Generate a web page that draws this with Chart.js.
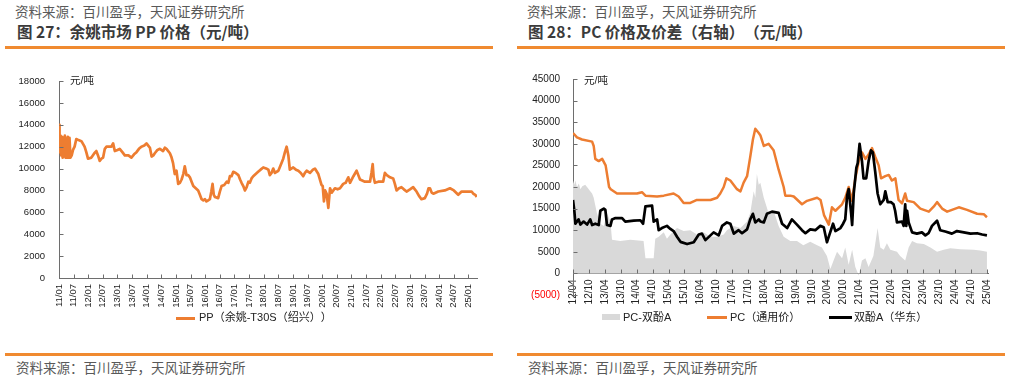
<!DOCTYPE html>
<html><head><meta charset="utf-8">
<script src="https://cdn.jsdelivr.net/npm/chart.js@4.4.1/dist/chart.umd.min.js"></script>
<style>
body{margin:0;width:1011px;height:378px;background:#fff;position:relative;overflow:hidden;font-family:"Liberation Sans","Noto Sans CJK SC",sans-serif;text-spacing-trim:space-all;}
.abs{position:absolute;white-space:nowrap;line-height:1;text-spacing-trim:space-all;}
.src{font-family:"Noto Sans CJK SC";font-size:13.5px;color:#595959;}
.ttl{font-family:"Noto Sans CJK SC";font-size:15.5px;font-weight:bold;color:#3b3b3b;}
.rule{position:absolute;height:2.5px;background:#F08A30;}
.unit{font-size:10.5px;color:#222;}
.leg{font-size:11px;color:#222;}
.sw{position:absolute;}
canvas{position:absolute;}
</style></head>
<body>
<div class="abs src" style="left:15px;top:5px">资料来源：百川盈孚，天风证券研究所</div>
<div class="abs ttl" style="left:17px;top:24px">图 27：余姚市场 PP 价格（元/吨）</div>
<div class="rule" style="left:5px;top:46px;width:488px"></div>
<div class="abs src" style="left:527px;top:5px">资料来源：百川盈孚，天风证券研究所</div>
<div class="abs ttl" style="left:528px;top:24px">图 28：PC 价格及价差（右轴）（元/吨）</div>
<div class="rule" style="left:517px;top:46px;width:488px"></div>

<div style="position:absolute;left:0;top:60px;width:500px;height:250px"><canvas id="c1"></canvas></div>
<div style="position:absolute;left:510px;top:60px;width:501px;height:254px"><canvas id="c2"></canvas></div>

<div class="abs unit" style="left:70px;top:75px">元/吨</div>
<div class="abs unit" style="left:584px;top:75px">元/吨</div>

<div class="sw" style="left:176px;top:317px;width:19px;height:2.5px;background:#ED7D31"></div>
<div class="abs leg" style="left:199px;top:312px">PP（余姚-T30S（绍兴））</div>

<div class="sw" style="left:602px;top:314px;width:18px;height:6px;background:#D9D9D9"></div>
<div class="abs leg" style="left:623px;top:312px">PC-双酚A</div>
<div class="sw" style="left:707px;top:316px;width:20px;height:2.5px;background:#ED7D31"></div>
<div class="abs leg" style="left:730px;top:312px">PC（通用价）</div>
<div class="sw" style="left:829px;top:316px;width:23px;height:2.5px;background:#000"></div>
<div class="abs leg" style="left:854px;top:312px">双酚A（华东）</div>

<div class="rule" style="left:5px;top:353px;width:488px"></div>
<div class="abs src" style="left:16px;top:361px">资料来源：百川盈孚，天风证券研究所</div>
<div class="rule" style="left:517px;top:353px;width:488px"></div>
<div class="abs src" style="left:528px;top:361px">资料来源：百川盈孚，天风证券研究所</div>

<script>
// ---------- Chart 27: PP price (x = months after 2011/01) ----------
const ppTickLabels = ['11/01','11/07','12/01','12/07','13/01','13/07','14/01','14/07','15/01','15/07','16/01','16/07','17/01','17/07','18/01','18/07','19/01','19/07','20/01','20/07','21/01','21/07','22/01','22/07','23/01','23/07','24/01','24/07','25/01'];
const ppMonths = [0,0.15,0.3,0.6,0.9,1.2,1.5,1.8,2.1,2.4,2.7,3.0,3.3,3.6,3.9,4.3,4.7,5.2,5.75,6.4,7.1,8.0,9.2,10.5,11.2,11.9,13.3,14.5,15.3,16.0,16.7,17.4,18.1,18.8,19.5,21.5,22.2,22.9,24.0,24.9,26.0,27.0,28.5,29.7,30.8,31.8,32.8,33.8,35.0,35.9,36.6,37.3,38.0,38.7,39.3,40.4,41.4,42.7,43.4,44.1,45.5,46.2,46.8,47.5,48.2,48.9,49.6,50.3,51.0,51.6,52.3,53.0,53.7,54.4,55.1,56.1,57.1,57.8,58.5,59.2,59.9,60.5,61.2,61.9,62.5,63.0,63.5,64.0,65.3,66.0,66.7,67.8,68.8,69.5,70.1,70.8,71.5,72.5,73.6,74.3,74.9,75.6,76.3,77.0,77.7,78.3,79.0,79.7,80.7,81.7,82.7,83.8,85.0,85.9,86.5,87.2,87.9,88.6,90.0,91.3,92.0,92.7,93.4,94.1,94.7,96.1,97.2,98.2,99.2,100.2,100.9,101.6,103.0,104.2,105.0,106.4,107.7,108.2,108.7,109.2,109.8,110.5,111.2,111.9,113.2,114.3,115.3,116.6,117.6,118.7,119.4,120.8,122.1,122.8,123.5,125.5,127.6,128.2,128.7,129.1,129.6,131.0,133.0,133.7,134.5,135.8,137.1,137.8,138.5,139.5,140.5,141.5,142.6,144.0,145.3,146.0,146.7,147.7,148.7,150.1,151.0,151.6,152.2,152.9,153.6,155.6,158.3,160.4,162.0,163.8,165.2,167.0,169.3,170.0,170.8,171.4];
const ppValues = [11800,14000,11500,13000,11200,12900,11000,12800,11100,13000,11000,12700,11000,12900,11000,12800,11000,11200,11700,12000,12700,12600,12500,12000,11500,10900,11000,11400,11600,11200,10700,10900,11000,11800,12000,12000,12300,11600,11700,11800,11500,11200,11200,11000,11300,11500,11800,12000,12100,12300,12100,11900,11100,11200,11400,11700,11800,11600,11900,11800,11400,11000,10500,9500,9800,8600,8700,9000,9500,10200,9400,9400,9200,8800,8400,8200,8000,7600,7200,7100,7200,7000,7100,7200,7900,8600,7600,7400,7300,7900,8400,8500,8800,8700,9300,9300,9700,9600,9400,9000,8700,8400,8000,8300,8800,8700,9100,9300,9500,9700,9900,10100,10000,9900,9400,9600,10000,9600,9800,10500,10900,11500,12000,11200,9900,10100,9900,9800,9600,9300,9600,9800,9600,9900,10000,9500,8500,8400,7000,8000,7700,6400,8200,7800,8200,8100,8200,8600,8700,9200,8700,9300,9800,9400,9000,8800,8800,9600,10400,9200,8700,8800,8800,9600,9400,9200,9100,8600,8000,8200,8300,8100,7900,8100,8300,8100,7900,7500,7200,7300,7700,8200,8200,7800,7700,7900,8000,8200,8000,7600,7900,7900,7900,7700,7600,7400];

// ---------- Chart 28: PC / BPA (x = months after 2012/04) ----------
const pcTickLabels = ['12/04','12/10','13/04','13/10','14/04','14/10','15/04','15/10','16/04','16/10','17/04','17/10','18/04','18/10','19/04','19/10','20/04','20/10','21/04','21/10','22/04','22/10','23/04','23/10','24/04','24/10','25/04'];
const pcMonths = [0,1.5,3.4,7.2,7.8,8.4,9.7,11.0,12.3,13.6,14.2,16.6,19.1,21.6,24.1,26.0,27.3,31.7,34.2,37.9,39.8,41.7,44.2,46.7,51.8,54.3,55.5,56.8,57.8,59.3,61.8,63.1,64.3,65.6,66.8,67.8,68.7,70.0,70.6,71.9,73.7,75.6,77.5,79.4,80.0,81.9,83.2,86.3,88.2,92.0,93.3,94.6,96.4,97.6,98.9,101.4,102.6,103.9,105.1,106.4,107.7,108.9,110.2,111.4,112.7,113.9,115.2,116.1,117.7,119.0,120.2,121.5,122.7,124.0,125.2,125.9,128.4,130.9,134.1,136.0,137.2,139.1,141.0,145.4,148.5,152.3,154.8,156.0];
const pcValues = [32500,31500,31000,30500,29500,26500,26000,26500,25000,20000,19500,18500,18500,18500,18500,18800,18000,17800,18000,18500,17800,16300,16300,17000,17000,17500,18500,20000,22000,21500,19500,19000,21000,22500,27000,31000,33500,32500,32000,29500,30000,28500,24000,20000,18000,18000,17800,16000,16800,17500,17000,13500,11300,15300,14500,16000,17500,20000,16800,22000,26000,28000,26500,27500,29000,27000,25000,22000,22500,22800,21500,22000,17000,16200,18500,16800,16500,15000,14300,15500,16500,15000,14300,15300,14700,13800,13700,13000];

const bpaMonths = [0,0.5,0.9,2.1,2.8,4.0,5.3,6.5,7.2,8.4,9.7,10.3,11.6,12.2,12.8,14.1,14.7,16.0,18.5,19.7,22.9,25.4,26.4,27.3,29.8,30.4,31.7,32.3,33.5,35.4,36.7,37.9,39.2,40.5,43.0,45.5,47.4,48.6,49.9,51.8,53.0,54.9,56.2,58.0,59.3,60.6,62.4,63.7,65.6,66.8,67.8,68.7,70.0,70.6,71.9,73.1,75.0,77.5,78.8,80.7,82.5,84.4,86.3,87.6,89.4,91.3,93.2,94.5,95.7,96.4,98.0,98.9,100.8,101.8,102.6,103.3,103.9,104.8,105.2,105.8,106.8,107.3,108.0,108.9,109.5,110.5,111.4,112.3,113.0,113.9,114.8,115.8,117.1,117.7,118.6,119.8,120.8,121.4,122.1,124.0,124.6,125.2,125.6,125.9,126.5,127.8,129.6,131.5,132.8,134.0,135.3,137.2,138.4,140.3,142.8,144.7,147.3,149.8,152.3,154.2,156.0];
const bpaValues = [17000,14500,11500,12500,11300,12000,11300,12500,11200,11500,11200,14500,15000,14700,11200,11000,12500,12800,12800,12000,12200,12300,11500,15500,15700,12000,12500,10000,10500,11000,10300,9800,8500,7300,6800,7200,9000,9200,7700,8800,9500,8800,11000,11800,11500,9200,10000,9300,10200,12500,13800,11800,12500,12000,11800,13800,14300,14000,11500,10500,12500,11300,10000,9300,10200,10000,11000,10700,7200,8500,11500,9800,10500,11500,12500,18000,19500,14000,11200,18500,24500,25500,30000,26000,22000,22000,26000,28500,28000,23500,18500,16000,17000,19000,16500,16500,16000,14500,11800,12000,11000,16000,11000,14500,11800,9500,9200,9500,8800,9300,11000,12200,10000,9700,9200,9800,9500,9200,9300,9000,8800];

const spreadMonths = [0,0.5,0.9,1.5,2.2,2.8,3.5,4.6,5.5,6.5,7.2,7.8,9.0,10.3,11.6,12.8,14.1,14.7,17.8,21.6,26.6,27.3,30.4,31.0,32.3,34.2,35.4,36.7,39.2,41.7,44.2,46.7,49.2,51.8,54.3,56.8,58.0,60.6,63.1,65.6,66.8,68.1,68.7,69.3,70.0,70.6,71.9,73.7,75.6,77.5,79.4,81.9,84.4,86.8,89.4,92.0,93.8,95.7,97.0,98.2,99.5,101.4,102.6,103.9,105.2,106.4,107.7,108.9,110.2,111.4,113.2,114.8,115.8,117.1,118.3,119.6,122.1,123.3,125.2,126.5,127.8,129.6,132.2,134.7,137.2,139.7,142.2,146.0,151.0,153.5,156.0];
const spreadValues = [21500,20500,21500,20000,20800,19500,20200,20500,19800,19000,18500,17500,14000,11500,11000,14000,12000,7800,7500,7800,7500,3500,3500,8000,8500,9500,8000,9000,10500,9800,10000,9000,9500,8500,8500,9000,10000,11000,10500,12000,14000,19000,17500,23000,20500,21000,17500,14000,14500,11000,8500,7500,7500,6500,7300,6500,6000,4000,1000,3000,5000,3500,6000,2000,5500,1500,-500,3000,3500,1500,4000,10500,6000,5500,7000,5500,5000,4000,3000,6000,7500,7000,6800,6000,5000,5500,5800,5600,5500,5300,5000];

const pts = (xs, ys) => xs.map((x, i) => ({x, y: ys[i]}));
const AXIS = '#6e6e6e';
const TICKFONT = fs => ({family: 'Liberation Sans, Arial, sans-serif', size: fs});

const inwardTicks = {
  id: 'inwardTicks',
  afterDatasetsDraw(chart) {
    const {ctx} = chart;
    const xs = chart.scales.x, ys = chart.scales.y;
    const axisY = Math.round(ys.getPixelForValue(Math.max(0, ys.min))) + 0.5;
    const axisX = Math.round(chart.chartArea.left) + 0.5;
    ctx.save();
    ctx.strokeStyle = AXIS; ctx.lineWidth = 1;
    ctx.beginPath();
    xs.ticks.forEach(t => {
      const px = Math.round(xs.getPixelForValue(t.value)) + 0.5;
      ctx.moveTo(px, axisY); ctx.lineTo(px, axisY - 4);
    });
    ys.ticks.forEach(t => {
      const py = Math.round(ys.getPixelForValue(t.value)) + 0.5;
      ctx.moveTo(axisX, py); ctx.lineTo(axisX + 4, py);
    });
    ctx.stroke();
    ctx.restore();
  }
};

new Chart(document.getElementById('c1'), {
  type: 'line',
  data: {datasets: [{
    label: 'PP（余姚-T30S（绍兴））',
    data: pts(ppMonths, ppValues),
    borderColor: '#ED7D31', borderWidth: 2.7, pointRadius: 0, tension: 0,
    borderJoinStyle: 'round', fill: false
  }]},
  options: {
    responsive: true, maintainAspectRatio: false, animation: false,
    layout: {padding: {top: 21, right: 23, bottom: 0, left: 0}},
    plugins: {legend: {display: false}, tooltip: {enabled: false}},
    scales: {
      x: {
        type: 'linear', min: 0, max: 171.5,
        grid: {display: false, drawTicks: false},
        border: {display: true, color: AXIS, width: 1},
        afterFit: s => { s.height = 32; },
        ticks: {
          stepSize: 6, includeBounds: false, autoSkip: false,
          minRotation: 90, maxRotation: 90, padding: 6,
          color: '#222', font: TICKFONT(9.5),
          callback: v => ppTickLabels[Math.round(v / 6)]
        }
      },
      y: {
        min: 0, max: 18000,
        grid: {display: false, drawTicks: false},
        border: {display: true, color: AXIS, width: 1},
        afterFit: s => { s.width = 59; },
        ticks: {stepSize: 2000, padding: 14, color: '#222', font: TICKFONT(9.5),
          callback: v => String(v)}
      }
    }
  },
  plugins: [inwardTicks]
});

new Chart(document.getElementById('c2'), {
  type: 'line',
  data: {datasets: [
    {label: 'PC-双酚A', data: pts(spreadMonths, spreadValues), order: 3,
     borderWidth: 0, borderColor: 'rgba(0,0,0,0)', backgroundColor: '#D9D9D9',
     pointRadius: 0, tension: 0, fill: 'origin'},
    {label: 'PC（通用价）', data: pts(pcMonths, pcValues), order: 2,
     borderColor: '#ED7D31', borderWidth: 2.5, pointRadius: 0, tension: 0, fill: false, borderJoinStyle: 'round'},
    {label: '双酚A（华东）', data: pts(bpaMonths, bpaValues), order: 1,
     borderColor: '#000000', borderWidth: 2.7, pointRadius: 0, tension: 0, fill: false, borderJoinStyle: 'round'}
  ]},
  options: {
    responsive: true, maintainAspectRatio: false, animation: false,
    layout: {padding: {top: 19, right: 23, bottom: 15, left: 0}},
    plugins: {legend: {display: false}, tooltip: {enabled: false}},
    scales: {
      x: {
        type: 'linear', min: 0, max: 156.4, position: {y: 0},
        grid: {display: false, drawTicks: false},
        border: {display: true, color: AXIS, width: 1},
        ticks: {
          stepSize: 6, includeBounds: false, autoSkip: false,
          minRotation: 90, maxRotation: 90, padding: 6,
          color: '#222', font: TICKFONT(10),
          callback: v => pcTickLabels[Math.round(v / 6)]
        }
      },
      y: {
        min: -5000, max: 45000,
        grid: {display: false, drawTicks: false},
        border: {display: true, color: AXIS, width: 1},
        afterFit: s => { s.width = 63; },
        ticks: {
          stepSize: 5000, padding: 13, font: TICKFONT(10),
          color: c => (c.tick && c.tick.value < 0) ? '#FF0000' : '#222',
          callback: v => v < 0 ? '(' + Math.abs(v) + ')' : String(v)
        }
      }
    }
  },
  plugins: [inwardTicks]
});
</script>
</body></html>
